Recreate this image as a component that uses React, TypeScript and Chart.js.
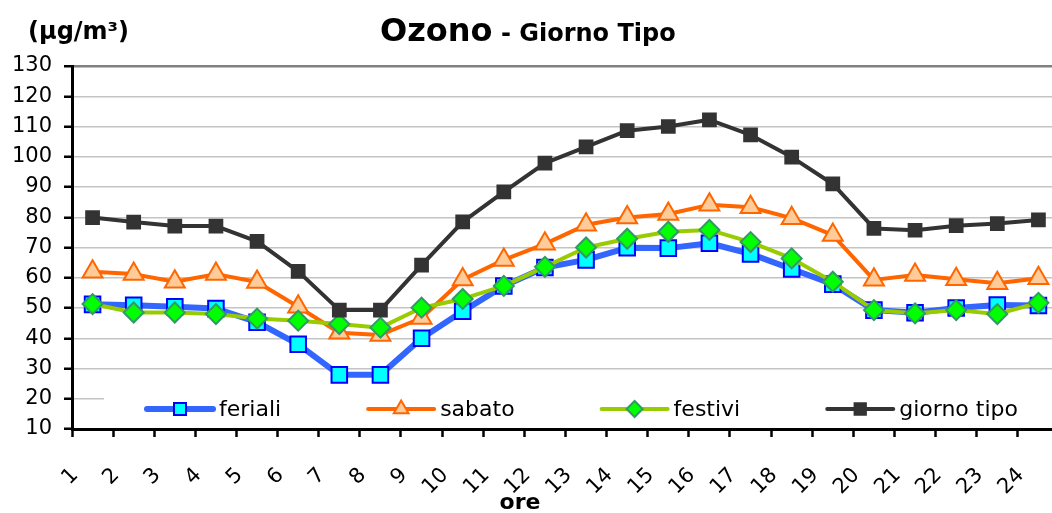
import React, { useEffect, useRef } from "react";
import { Chart, registerables } from "chart.js";
import { drawPoint } from "chart.js/helpers";

Chart.register(...registerables);

// ---------- data ----------
const hourLabels = [
  "1", "2", "3", "4", "5", "6", "7", "8", "9", "10", "11", "12",
  "13", "14", "15", "16", "17", "18", "19", "20", "21", "22", "23", "24",
];
const feriali = [
  51.2, 50.9, 50.4, 49.8, 45.3, 38.0, 27.9, 27.9, 40.0, 48.9, 57.3, 63.4,
  65.9, 69.9, 69.8, 71.4, 67.9, 62.9, 57.9, 49.3, 48.4, 50.0, 51.0, 50.8,
];
const sabato = [
  62.0, 61.2, 58.7, 61.2, 58.6, 50.4, 41.8, 41.1, 46.7, 59.4, 65.9, 71.2,
  77.5, 79.9, 81.1, 84.1, 83.3, 79.7, 74.1, 59.3, 60.9, 59.5, 58.2, 59.8,
];
const festivi = [
  51.3, 48.5, 48.5, 48.0, 46.5, 45.8, 44.7, 43.5, 50.1, 53.0, 57.3, 63.6,
  70.0, 72.9, 75.2, 75.8, 71.8, 66.4, 58.7, 49.3, 48.2, 49.3, 48.0, 51.7,
];
const giornoTipo = [
  79.9, 78.4, 77.1, 77.1, 72.0, 62.1, 49.3, 49.3, 64.2, 78.5, 88.4, 97.9,
  103.3, 108.6, 110.0, 112.2, 107.2, 99.9, 91.0, 76.3, 75.7, 77.2, 77.9, 79.1,
];
const seriesNames = ["feriali", "sabato", "festivi", "giorno tipo"];
const yMin = 10;
const yMax = 130;
const yStep = 10;

// ---------- styles ----------
const FONT = "'DejaVu Sans', Verdana, sans-serif";
const seriesStyles = [
  { line: "#3366FF", width: 6, fill: "#00FFFF", border: "#0000FF", style: "rect", radius: 11, legendRadius: 8.5 },
  { line: "#FF6600", width: 4, fill: "#FFCC99", border: "#FF6600", style: "triangle", radius: 11.5, legendRadius: 8.5 },
  { line: "#99CC00", width: 4, fill: "#00FF00", border: "#339966", style: "rectRot", radius: 10, legendRadius: 8 },
  { line: "#333333", width: 4, fill: "#333333", border: "#333333", style: "rect", radius: 9, legendRadius: 8 },
];

const decorations = {
  id: "decorations",
  beforeDatasetsDraw(chart: any) {
    const { ctx, chartArea } = chart;
    ctx.save();
    ctx.fillStyle = "#ffffff";
    ctx.fillRect(chartArea.left + 32, 390, chartArea.right - chartArea.left - 32, 36);
    ctx.restore();
  },
  afterDraw(chart: any) {
    const { ctx, chartArea } = chart;
    ctx.save();
    ctx.fillStyle = "#000";
    ctx.textBaseline = "alphabetic";
    ctx.textAlign = "left";
    // title
    ctx.font = `bold 32px ${FONT}`;
    ctx.fillText("Ozono", 380, 41);
    const w1 = ctx.measureText("Ozono").width;
    ctx.font = `bold 24px ${FONT}`;
    ctx.fillText(" - Giorno Tipo", 380 + w1, 41);
    // units
    ctx.font = `bold 24px ${FONT}`;
    ctx.fillText("(\u03BCg/m\u00B3)", 28, 39);
    // axis title
    ctx.font = `bold 22px ${FONT}`;
    ctx.textAlign = "center";
    ctx.fillText("ore", 520, 509);
    // legend
    ctx.font = `22px ${FONT}`;
    ctx.textAlign = "left";
    ctx.textBaseline = "middle";
    let x = chartArea.left + 75;
    const y = 409;
    const lineLen = 66;
    seriesNames.forEach((name, i) => {
      const s = seriesStyles[i];
      ctx.strokeStyle = s.line;
      ctx.lineWidth = s.width;
      ctx.lineCap = "round";
      ctx.beginPath();
      ctx.moveTo(x, y);
      ctx.lineTo(x + lineLen, y);
      ctx.stroke();
      ctx.fillStyle = s.fill;
      ctx.strokeStyle = s.border;
      ctx.lineWidth = 2;
      drawPoint(ctx, { pointStyle: s.style, radius: s.legendRadius, borderWidth: 2, rotation: 0 } as any, x + lineLen / 2, y);
      ctx.fillStyle = "#000";
      ctx.fillText(name, x + lineLen + 6, y + 1);
      x += lineLen + 6 + ctx.measureText(name).width + 87;
    });
    ctx.restore();
  },
};

export default function App() {
  const ref = useRef<HTMLCanvasElement | null>(null);
  useEffect(() => {
    if (!ref.current) return;
    const datasetsValues = [feriali, sabato, festivi, giornoTipo];
    const chart = new Chart(ref.current, {
      type: "line",
      data: {
        datasets: datasetsValues.map((vals, i) => {
          const s = seriesStyles[i];
          return {
            label: seriesNames[i],
            data: vals.map((v, k) => ({ x: k + 1.5, y: v })),
            borderColor: s.line,
            borderWidth: s.width,
            backgroundColor: s.fill,
            pointStyle: s.style as any,
            pointRadius: s.radius,
            pointBackgroundColor: s.fill,
            pointBorderColor: s.border,
            pointBorderWidth: 2,
            tension: 0,
            order: 4 - i,
            clip: false as any,
            borderJoinStyle: "round" as any,
          };
        }),
      },
      options: {
        animation: false,
        responsive: true,
        maintainAspectRatio: false,
        layout: { autoPadding: false, padding: { top: 66, left: 0, right: 0, bottom: 0 } },
        plugins: { legend: { display: false }, title: { display: false }, tooltip: { enabled: false } },
        scales: {
          x: {
            type: "linear",
            min: 1,
            max: 24.83,
            afterBuildTicks: (scale: any) => {
              scale.ticks = hourLabels.map((_, i) => ({ value: i + 1 }));
            },
            afterFit: (scale: any) => {
              scale.height = 84;
              scale.paddingLeft = 0;
              scale.paddingRight = 0;
            },
            ticks: {
              autoSkip: false,
              minRotation: 45,
              maxRotation: 45,
              padding: 26,
              labelOffset: 3,
              color: "#000",
              font: { family: FONT, size: 21 },
              callback: (v: any) => hourLabels[Math.round(Number(v)) - 1] ?? "",
            },
            grid: {
              display: true,
              drawOnChartArea: false,
              drawTicks: true,
              tickLength: 8,
              tickColor: "#000",
              tickWidth: 2.5,
            },
            border: { display: true, color: "#000", width: 3 },
          },
          y: {
            min: yMin,
            max: yMax,
            afterFit: (scale: any) => {
              scale.width = 72;
              scale.paddingTop = 0;
              scale.paddingBottom = 0;
            },
            ticks: {
              stepSize: yStep,
              padding: 12,
              color: "#000",
              font: { family: FONT, size: 21 },
            },
            grid: {
              color: (c: any) => (c.tick && c.tick.value === yMax ? "#808080" : "#c4c4c4"),
              lineWidth: (c: any) => (c.tick && c.tick.value === yMax ? 2.5 : 1.5),
              tickLength: 8,
              tickColor: "#000",
              tickWidth: 2.5,
            },
            border: { display: true, color: "#000", width: 3 },
          },
        },
      },
      plugins: [decorations],
    });
    return () => chart.destroy();
  }, []);
  return (
    <div style={{ position: "absolute", left: 0, top: 0, width: 1052, height: 513, background: "#fff" }}>
      <canvas ref={ref} />
    </div>
  );
}
